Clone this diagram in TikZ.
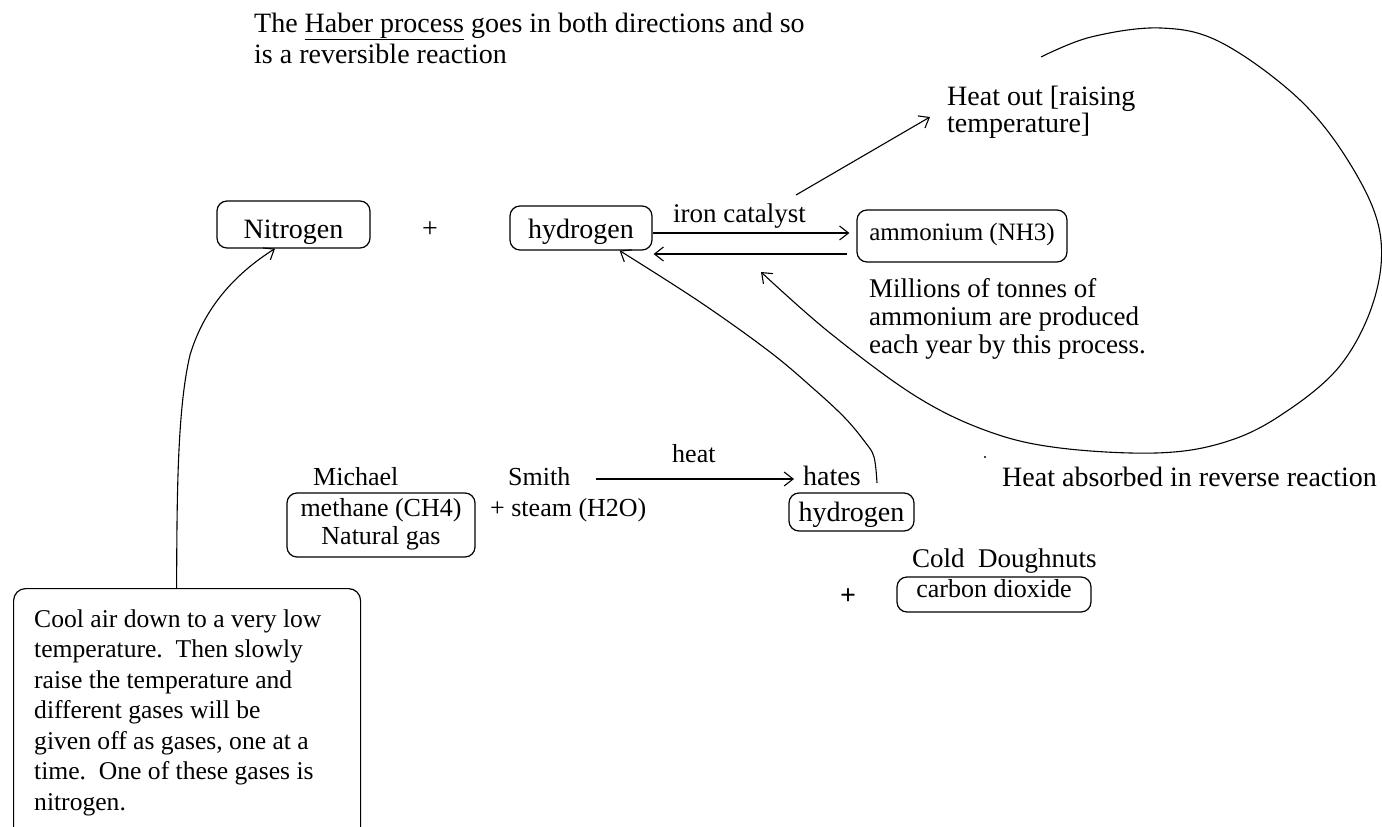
\documentclass[tikz,border=0pt]{standalone}
\usepackage{fontspec}
\setmainfont{Liberation Serif}
\usetikzlibrary{arrows.meta}
\newcommand{\fs}[2]{\fontsize{#1}{#2}\selectfont}
\tikzset{
  txt/.style={font=\fs{28}{31}, inner sep=0pt, anchor=base west, align=left},
  rbox/.style={draw, line width=1.2pt, rounded corners=10pt, inner xsep=0pt, inner ysep=0pt, anchor=base, font=\fs{28}{31}},
  arr/.style={line width=1.1pt, -{Straight Barb[length=9pt,width=14pt]}},
}
\begin{document}
\begin{tikzpicture}[x=1pt,y=-1pt]
\useasboundingbox[fill=white] (0,0) rectangle (1382,827);
% title
\node[txt] (title) at (254,63) {The \underline{Haber process} goes in both directions and so\\is a reversible reaction};
% heat out
\node[txt, font=\fs{28}{27}] (heatout) at (947,132) {Heat out [raising\\temperature]};
\coordinate (ho1) at (796,195);
\coordinate (ho2) at (930,117);
\draw[arr] (ho1) -- (ho2);
% main row
\node[rbox, minimum width=153pt, text height=37pt, text depth=10pt] (nit) at (293.5,238) {Nitrogen};
\node[txt, anchor=center] (plus1) at (430,230) {+};
\node[rbox, minimum width=142pt, text height=32pt, text depth=12pt] (hyd) at (581,238) {hydrogen};
\node[rbox, minimum width=210pt, text height=30pt, text depth=22pt, font=\fs{25}{30}] (amm) at (962,240) {ammonium (NH3)};
\node[txt, font=\fs{27}{31}] (iron) at (673,222) {iron catalyst};
\coordinate (yf) at (0,233);
\coordinate (yb) at (0,254);
\draw[arr] (hyd.east |- yf) -- ([xshift=-7pt]amm.west |- yf);
\draw[arr] ([xshift=-9pt]amm.west |- yb) -- ([xshift=1pt]hyd.east |- yb);
\node[txt, font=\fs{27}{28}] (mill) at (869,353) {Millions of tonnes of\\ammonium are produced\\each year by this process.};
% big loop
\coordinate (lp1) at (1041,57);
\coordinate (lp2) at (761,272);
\draw[arr] plot[smooth, tension=0.6] coordinates {(lp1) (1091,37) (1161,28) (1222,43) (1300,100) (1352,167) (1380,233) (1374,300) (1339,367) (1278,417) (1222,443) (1156,453) (1060,448) (990,432) (917,397) (830,333) (lp2)};
\fill (985,457) circle (1.2pt);
\node[txt] (habs) at (1002,486) {Heat absorbed in reverse reaction};
% lower row
\node[txt, font=\fs{26}{31}] (mich) at (313,485) {Michael};
\node[txt, font=\fs{26}{31}] (smith) at (508,485) {Smith};
\node[txt, font=\fs{26}{31}] (heat) at (672,462) {heat};
\node[rbox, minimum width=188pt, text height=51pt, text depth=13pt, align=center, font=\fs{26}{28}] (meth) at (381,544) {methane (CH4)\\Natural gas};
\node[txt, font=\fs{26}{31}] (steam) at (490,516) {+ steam (H2O)};
\coordinate (ha1) at (596,479);
\node[txt] (hates) at (803,485) {hates};
\draw[arr] (ha1) -- ([xshift=-9pt]hates.west |- ha1);
\node[rbox, minimum width=125pt, text height=28pt, text depth=10pt] (hyd2) at (851.5,521) {hydrogen};
\node[txt, font=\fs{27}{31}] (cold) at (912,567) {Cold\ \ Doughnuts};
\node[txt, anchor=center, font=\bfseries\fs{28}{31}] (plus2) at (848,597) {+};
\node[rbox, minimum width=194pt, text height=20pt, text depth=15pt, font=\fs{26}{31}] (co2) at (994,597) {carbon dioxide};
% cool box
\node[draw, line width=1.2pt, rounded corners=12pt, anchor=north west, minimum width=347pt, minimum height=262pt, inner sep=0pt] (cool) at (13,588) {};
\node[txt, font=\fs{25.6}{30.5}] (cooltxt) at (34,810) {Cool air down to a very low\\temperature.\ \ Then slowly\\raise the temperature and\\different gases will be\\given off as gases, one at a\\time.\ \ One of these gases is\\nitrogen.};
% connectors
\draw[arr] ([xshift=-10.5pt]cool.north) .. controls (177,500) and (177,410) .. (190,355) .. controls (205,305) and (238,272) .. ([xshift=-18.5pt]nit.south);
\coordinate (hy1) at (877,483);
\draw[arr] plot[smooth, tension=0.6] coordinates {(hy1) (874,457) (865,442) (845,418) (815,390) (770,352) (700,302) ([xshift=-33pt]hyd.south east)};
\end{tikzpicture}
\end{document}
